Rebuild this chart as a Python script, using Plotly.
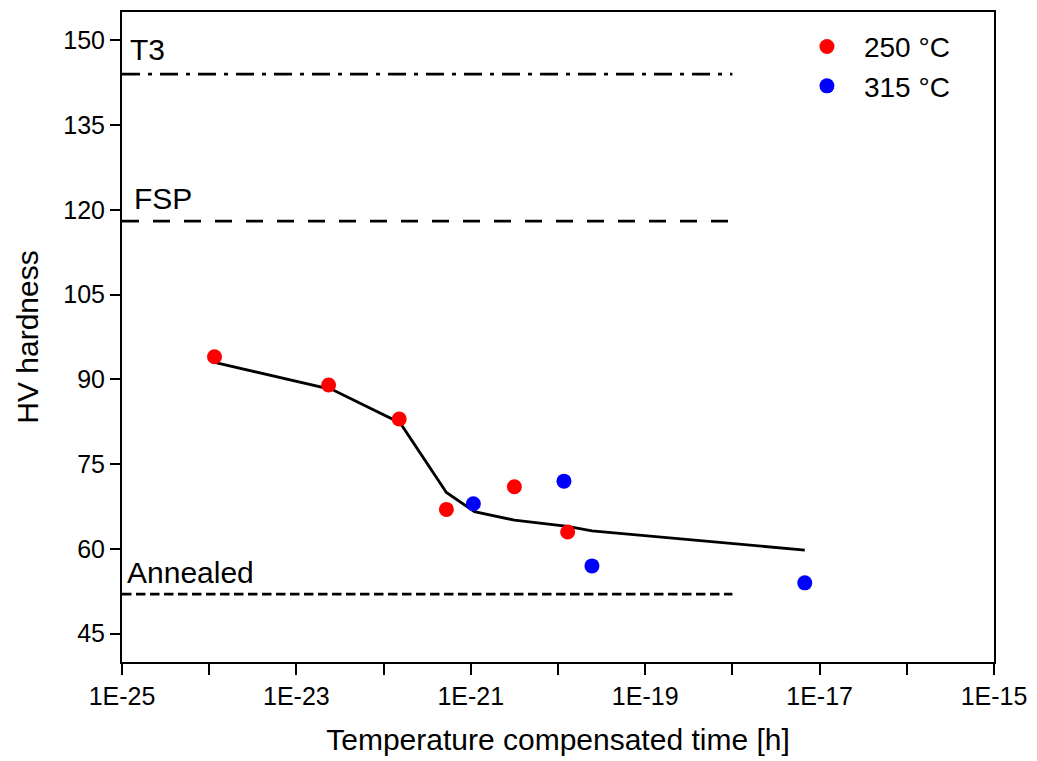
import plotly.graph_objects as go

# Hardness vs. temperature compensated time
t_250 = [1.15e-24, 2.34e-23, 1.51e-22, 5.25e-22, 3.16e-21, 1.29e-20]
hv_250 = [94, 89, 83, 67, 71, 63]

t_315 = [1.07e-21, 1.17e-20, 2.45e-20, 6.76e-18]
hv_315 = [68, 72, 57, 54]

# Fitted trend through all samples
t_fit = [1.15e-24, 2.57e-23, 1.55e-22, 5.25e-22, 1.10e-21, 3.16e-21, 1.29e-20, 2.45e-20, 6.76e-18]
hv_fit = [93.0, 88.2, 82.3, 70.0, 66.6, 65.1, 64.0, 63.2, 59.8]

# Reference hardness levels
ref_names = ["T3", "FSP", "Annealed"]
ref_hv = [144, 118, 52]
ref_t = [1e-25, 1e-18]

tick_vals = [10.0 ** e for e in range(-25, -14)]
tick_text = [f"1E{e}" if e % 2 == 1 else "" for e in range(-25, -14)]

FONT = "Arial, Liberation Sans, sans-serif"

fig = go.Figure()

ref_dash = ["18px,8px,4px,8px", "17px,14px", "9.5px,4.5px"]
for name, hv, dash in zip(ref_names, ref_hv, ref_dash):
    fig.add_trace(go.Scatter(
        x=ref_t, y=[hv, hv], mode="lines",
        line=dict(color="black", width=2.8, dash=dash),
        showlegend=False, hoverinfo="skip",
    ))

fig.add_trace(go.Scatter(
    x=t_fit, y=hv_fit, mode="lines",
    line=dict(color="black", width=2.8),
    showlegend=False,
))

fig.add_trace(go.Scatter(
    x=t_250, y=hv_250, mode="markers", name="250 °C",
    marker=dict(color="#ff0000", size=15),
))
fig.add_trace(go.Scatter(
    x=t_315, y=hv_315, mode="markers", name="315 °C",
    marker=dict(color="#0000ff", size=15),
))

label_y = [148.4, 122.0, 55.9]
label_x = [0.007, 0.011, 0.004]
for name, lx, ly in zip(ref_names, label_x, label_y):
    fig.add_annotation(
        x=lx, xref="paper", y=ly, yref="y", text=name, showarrow=False,
        xanchor="left", yanchor="middle",
        font=dict(family=FONT, size=30, color="black"),
    )

fig.update_layout(
    width=1037, height=761,
    margin=dict(l=122, r=37, t=10, b=98),
    paper_bgcolor="white", plot_bgcolor="white",
    font=dict(family=FONT, color="black"),
    legend=dict(
        x=0.766, y=0.985, xanchor="left", yanchor="top",
        font=dict(family=FONT, size=28, color="black"),
        bgcolor="rgba(0,0,0,0)", itemwidth=64, tracegroupgap=0,
    ),
)

fig.update_xaxes(
    type="log", range=[-25, -15],
    tickmode="array", tickvals=tick_vals, ticktext=tick_text,
    ticks="outside", ticklen=11, tickwidth=2, tickcolor="black",
    showline=True, linewidth=2, linecolor="black", mirror=True,
    showgrid=False, zeroline=False,
    tickfont=dict(family=FONT, size=25, color="black"),
    title=dict(text="Temperature compensated time [h]",
               font=dict(family=FONT, size=30, color="black"), standoff=20),
)
fig.update_yaxes(
    range=[40, 155],
    tickmode="array", tickvals=[45, 60, 75, 90, 105, 120, 135, 150],
    ticks="outside", ticklen=10, tickwidth=2, tickcolor="black",
    showline=True, linewidth=2, linecolor="black", mirror=True,
    showgrid=False, zeroline=False,
    tickfont=dict(family=FONT, size=25, color="black"),
    title=dict(text="HV hardness",
               font=dict(family=FONT, size=30, color="black"), standoff=16),
)

fig.write_html("out.html")
